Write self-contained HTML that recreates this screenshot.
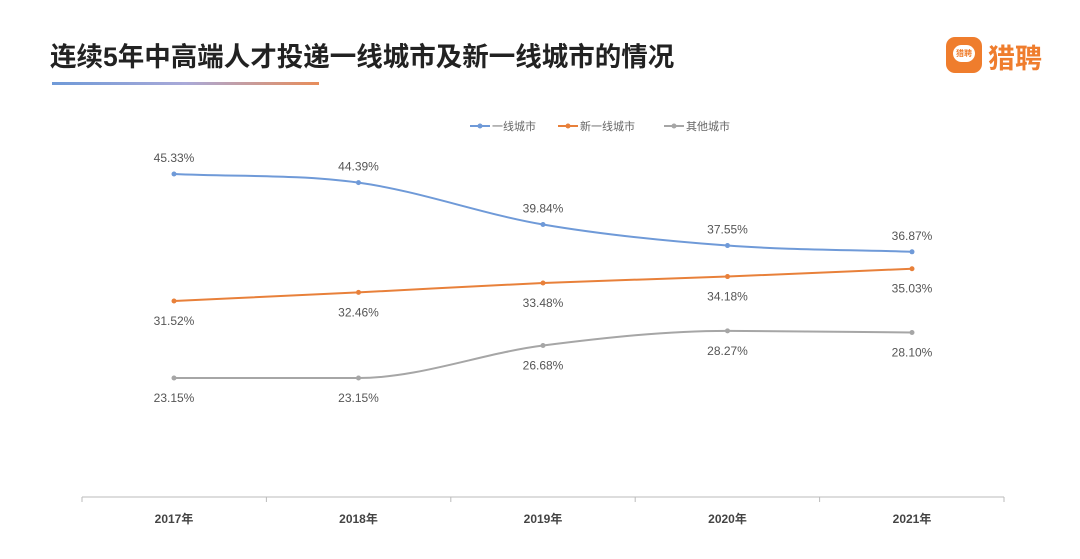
<!DOCTYPE html>
<html><head><meta charset="utf-8">
<style>
body{margin:0;background:#fff;width:1080px;height:559px;overflow:hidden;font-family:"Liberation Sans","Noto Sans CJK SC",sans-serif;}
.title{position:absolute;left:50px;top:35px;font-size:26.5px;font-weight:bold;color:#222;white-space:nowrap}
.uline{position:absolute;left:52px;top:82px;width:267px;height:3px;background:linear-gradient(90deg,#6f9ad8,#a9a9d8 50%,#e88d5a)}
.logo{position:absolute;left:946px;top:37px;width:36px;height:36px;border-radius:9px;background:#ef7d2d}
.logotxt{position:absolute;left:988px;top:37px;font-size:27px;font-weight:bold;color:#ef7d2d}
</style></head><body>
<div class="title">连续5年中高端人才投递一线城市及新一线城市的情况</div>
<div class="uline"></div>
<div class="logo"><div style="position:absolute;left:7px;top:8px;width:22px;height:17px;border-radius:9px;background:#fff;color:#ef7d2d;font-size:8px;text-align:center;line-height:17px;font-weight:bold">猎聘</div></div>
<div class="logotxt">猎聘</div>
<svg id="chart" width="1080" height="559" style="position:absolute;left:0;top:0"></svg>
<script>
const categories=["2017年","2018年","2019年","2020年","2021年"];
const tier1=[45.33,44.39,39.84,37.55,36.87];
const newTier1=[31.52,32.46,33.48,34.18,35.03];
const others=[23.15,23.15,26.68,28.27,28.10];
const seriesNames=["一线城市","新一线城市","其他城市"];
const NS="http://www.w3.org/2000/svg";
const svg=document.getElementById('chart');
const x=i=>174+i*184.5;
const y=v=>174+(45.33-v)*9.197;
function mk(t,a){const e=document.createElementNS(NS,t);for(const k in a)e.setAttribute(k,a[k]);svg.appendChild(e);return e;}
const ax=mk('line',{x1:82,x2:1004,y1:497,y2:497,stroke:'#bbb','stroke-width':1});


for(let i=0;i<=5;i++){const t=mk('line',{x1:82+i*184.4,x2:82+i*184.4,y1:497,y2:502,stroke:'#bbb'});

}
categories.forEach((c,i)=>{const t=mk('text',{x:x(i),y:523,'text-anchor':'middle','font-size':12,'font-weight':'bold',fill:'#444'});t.textContent=c;

});
function path(vals){const p=vals.map((v,i)=>[x(i),y(v)]);const n=p.length;
const d=[],m=[];for(let i=0;i<n-1;i++)d.push((p[i+1][1]-p[i][1])/(p[i+1][0]-p[i][0]));
for(let i=0;i<n;i++){if(i==0)m.push(d[0]);else if(i==n-1)m.push(d[n-2]);else m.push(d[i-1]*d[i]<=0?0:(d[i-1]+d[i])/2);}
let s=`M${p[0][0]},${p[0][1]}`;
for(let i=0;i<n-1;i++){const h=(p[i+1][0]-p[i][0])/3;
s+=` C${p[i][0]+h},${p[i][1]+m[i]*h} ${p[i+1][0]-h},${p[i+1][1]-m[i+1]*h} ${p[i+1][0]},${p[i+1][1]}`;}return s;}
const series=[[tier1,'#6f9ad8',-12,'tier1'],[newTier1,'#e8803a',24,'new-tier1'],[others,'#a6a6a6',24,'others']];
series.forEach(([vals,col,off,nm])=>{
const l=mk('path',{d:path(vals),fill:'none',stroke:col,'stroke-width':2});


vals.forEach((v,i)=>{const c=mk('circle',{cx:x(i),cy:y(v),r:2.5,fill:col});


const t=mk('text',{x:x(i),y:y(v)+off,'text-anchor':'middle','font-size':12,fill:'#555'});t.textContent=v.toFixed(2)+'%';

});});
const lx=[470,558,664];
series.forEach(([v,col,o,nm],i)=>{const g=lx[i];
const l=mk('line',{x1:g,x2:g+20,y1:126,y2:126,stroke:col,'stroke-width':2});


mk('circle',{cx:g+10,cy:126,r:2.5,fill:col});
const t=mk('text',{x:g+22,y:130,'font-size':11,fill:'#666'});t.textContent=seriesNames[i];

});
</script>
</body></html>
